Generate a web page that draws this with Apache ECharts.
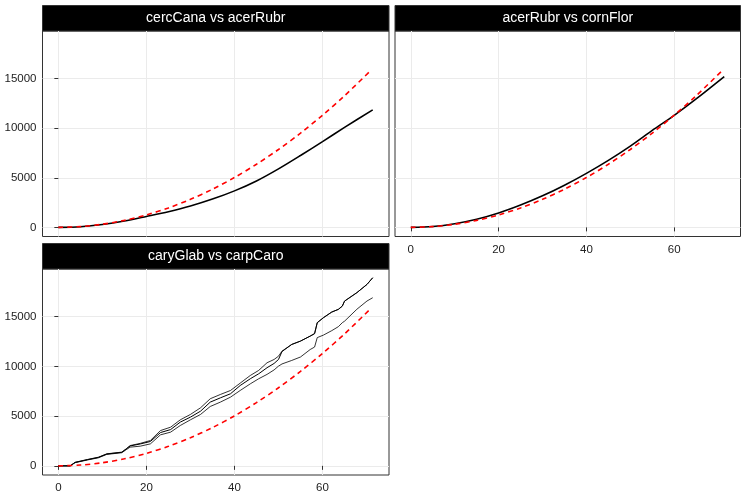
<!DOCTYPE html>
<html>
<head>
<meta charset="utf-8">
<script src="https://cdn.jsdelivr.net/npm/echarts@6/dist/echarts.min.js"></script>
<style>
  html, body { margin: 0; padding: 0; background: #fff; }
  #chart { width: 747px; height: 498px; }
</style>
</head>
<body>
<div id="chart"></div>
<script>
// panel titles
var panelTitles = ['cercCana vs acerRubr', 'acerRubr vs cornFlor', 'caryGlab vs carpCaro'];

// theoretical curve (red dashed), same in every panel
var rTheo = [0, 5, 10, 15, 20, 25, 30, 35, 40, 45, 50, 55, 60, 65, 71];
var kTheo = [0, 79, 314, 707, 1257, 1963, 2827, 3848, 5027, 6362, 7854, 9503, 11310, 13273, 15837];

// panels 1 and 2 observed curves
var rSmooth = [0, 5, 10, 15, 20, 25, 30, 35, 40, 45, 50, 55, 60, 65, 71.4];
var kCercAcer = [0, 70, 290, 640, 1100, 1580, 2150, 2850, 3680, 4680, 5900, 7250, 8650, 10080, 11850];
var kAcerCorn = [0, 90, 370, 820, 1450, 2250, 3180, 4250, 5450, 6760, 8200, 9780, 11300, 12950, 15200];

// panel 3: observed with envelope
var rCary = [0, 2.7, 3.8, 6.6, 9.1, 11, 14.4, 15.4, 16.3, 18.6, 20.9, 23.2, 25.5, 27.7, 30, 32.3, 34.5, 36.8, 39.1,
  41.3, 43.6, 45.5, 47.4, 49, 50, 50.8, 53, 55, 57.2, 58.2, 58.8, 60.2, 62.1, 63.6, 64.5, 65, 67.8, 70.1, 71.4];
var kCaryHi = [0, 0, 360, 640, 870, 1210, 1380, 1710, 2040, 2260, 2550, 3550, 3890, 4630, 5170, 5840, 6750, 7180, 7580,
  8320, 9090, 9600, 10370, 10700, 11030, 11540, 12210, 12550, 13050, 13300, 14400, 14900, 15470, 15740, 16070, 16570, 17420, 18250, 18920];
var kCaryObs = [0, 0, 340, 620, 850, 1190, 1360, 1690, 2000, 2200, 2450, 3350, 3650, 4400, 4900, 5500, 6410, 6840, 7250,
  8080, 8760, 9260, 9870, 10300, 10700, 11500, 12210, 12550, 13050, 13300, 14400, 14900, 15470, 15740, 16070, 16570, 17420, 18250, 18920];
var kCaryLo = [0, 0, 320, 590, 810, 1150, 1320, 1620, 1880, 1980, 2210, 3120, 3390, 4060, 4630, 5170, 5970, 6410, 6910,
  7580, 8250, 8760, 9200, 9650, 10030, 10250, 10600, 10950, 11700, 11950, 12900, 13150, 13600, 14000, 14400, 14550, 15750, 16580, 16910];

var xTicks = [0, 20, 40, 60];
var yTicks = [0, 5000, 10000, 15000];

function zip(xs, ys) {
  return xs.map(function (x, i) { return [x, ys[i]]; });
}

var grids = [
  { left: 42.5, top: 31, width: 346.5, height: 205.5 },
  { left: 395, top: 31, width: 345.5, height: 205.5 },
  { left: 42.5, top: 269, width: 346.5, height: 206 }
];

var labelStyle = {
  color: '#222', fontSize: 11.5, fontFamily: 'Liberation Sans',
  formatter: function (v) { return String(v); }
};
var gridLine = { show: true, lineStyle: { color: '#ebebeb', width: 1 } };

function xAxisFor(i, showLabels) {
  return {
    type: 'value', gridIndex: i, min: -3.6, max: 75.1,
    axisLine: { show: false },
    axisTick: { show: showLabels, customValues: xTicks, length: 4, lineStyle: { color: '#333' } },
    axisLabel: Object.assign({ show: showLabels, customValues: xTicks, margin: 7 }, labelStyle),
    splitLine: gridLine
  };
}
function yAxisFor(i, showLabels) {
  return {
    type: 'value', gridIndex: i, min: -920, max: 19800,
    axisLine: { show: false },
    axisTick: { show: showLabels, customValues: yTicks, length: 4, lineStyle: { color: '#333' } },
    axisLabel: Object.assign({ show: showLabels, customValues: yTicks, margin: 6 }, labelStyle),
    splitLine: gridLine
  };
}

function blackLine(i, data, w, smooth) {
  return {
    type: 'line', xAxisIndex: i, yAxisIndex: i, data: data, showSymbol: false, smooth: smooth,
    lineStyle: { color: '#000', width: w }, silent: true, z: 2
  };
}
function redLine(i) {
  return {
    type: 'line', xAxisIndex: i, yAxisIndex: i, data: zip(rTheo, kTheo), showSymbol: false, smooth: 0.3,
    lineStyle: { color: '#ff0000', width: 1.6, type: [5, 4] }, silent: true, z: 3
  };
}

var graphics = [];
grids.forEach(function (g, i) {
  graphics.push({
    type: 'rect', shape: { x: g.left, y: g.top - 25.5, width: g.width, height: 25.5 },
    style: { fill: '#000', stroke: '#333', lineWidth: 1 }
  });
  graphics.push({
    type: 'text', x: g.left + g.width / 2, y: g.top - 12.5,
    style: { text: panelTitles[i], fill: '#fff', font: '14px "Liberation Sans"', align: 'center', verticalAlign: 'middle' }
  });
});

var option = {
  backgroundColor: '#fff',
  animation: false,
  grid: grids.map(function (g) {
    return Object.assign({ show: true, borderColor: '#333', borderWidth: 1, backgroundColor: '#fff', containLabel: false }, g);
  }),
  xAxis: [xAxisFor(0, false), xAxisFor(1, true), xAxisFor(2, true)],
  yAxis: [yAxisFor(0, true), yAxisFor(1, false), yAxisFor(2, true)],
  series: [
    blackLine(0, zip(rSmooth, kCercAcer), 1.6, 0.3),
    redLine(0),
    blackLine(1, zip(rSmooth, kAcerCorn), 1.6, 0.3),
    redLine(1),
    blackLine(2, zip(rCary, kCaryHi), 0.8, false),
    blackLine(2, zip(rCary, kCaryObs), 1, false),
    blackLine(2, zip(rCary, kCaryLo), 0.8, false),
    redLine(2)
  ],
  graphic: graphics
};

var myChart = echarts.init(document.getElementById('chart'));
myChart.setOption(option);
</script>
</body>
</html>
